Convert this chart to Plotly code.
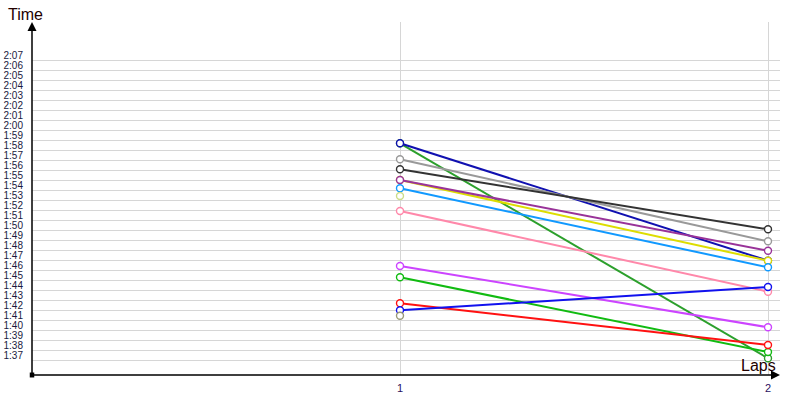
import plotly.graph_objects as go

# ---- data ----
laps = [1, 2]
# lap times in seconds (1:37 = 97 s)
navy_times = [118.67, 106.93]
darkgreen_times = [118.67, 97.17]
gray_times = [117.07, 108.87]
black_times = [116.07, 110.07]
purple_times = [115.0, 107.93]
yellow_times = [115.0, 106.93]
lightblue_times = [114.17, 106.27]
pink_times = [111.9, 103.83]
violet_times = [106.4, 100.27]
green_times = [105.27, 97.8]
red_times = [102.67, 98.5]
blue_times = [101.97, 104.3]
single_lap = [1]
lime_times = [113.4]
olive_times = [101.43]

tick_seconds = list(range(97, 128))
tick_labels = ["%d:%02d" % (s // 60, s % 60) for s in tick_seconds]
x_ticks = [1, 2]
x_labels = ["1", "2"]

series = [
    (darkgreen_times, laps, "#2ca02c"),
    (navy_times, laps, "#1010b0"),
    (gray_times, laps, "#999999"),
    (black_times, laps, "#333333"),
    (yellow_times, laps, "#dddd00"),
    (purple_times, laps, "#993399"),
    (lightblue_times, laps, "#1199ff"),
    (pink_times, laps, "#ff88aa"),
    (violet_times, laps, "#cc44ff"),
    (green_times, laps, "#11bb11"),
    (red_times, laps, "#ff1111"),
    (blue_times, laps, "#1111ee"),
    (lime_times, single_lap, "#ccdd88"),
    (olive_times, single_lap, "#999977"),
]

fig = go.Figure()
for ys, xs, col in series:
    fig.add_trace(go.Scatter(
        x=xs, y=ys, mode="lines+markers",
        line=dict(color=col, width=2),
        marker=dict(symbol="circle", size=7, color="white",
                    line=dict(color=col, width=1.4)),
        hoverinfo="skip", showlegend=False))

# invisible trace to activate the label axis
fig.add_trace(go.Scatter(x=[1], y=[110], yaxis="y2", mode="markers",
                         marker=dict(opacity=0), showlegend=False, hoverinfo="skip"))

y_range = [95.5, 130.8]
label_font = dict(family="Liberation Sans", size=10, color="#1a1a40")

fig.update_layout(
    width=800, height=400,
    margin=dict(l=32, r=20, t=22, b=25),
    plot_bgcolor="white", paper_bgcolor="white",
    xaxis=dict(range=[0, 2.0326], tickvals=x_ticks, ticktext=x_labels,
               showgrid=True, gridcolor="#d6d6d6", gridwidth=1,
               zeroline=False, showline=False, ticks="", automargin=False,
               ticklabelstandoff=5,
               tickfont=dict(family="Liberation Sans", size=11, color="#2a1060")),
    yaxis=dict(range=y_range, tickvals=tick_seconds, showticklabels=False,
               showgrid=True, gridcolor="#d6d6d6", gridwidth=1,
               zeroline=False, showline=False, ticks="", automargin=False),
    yaxis2=dict(range=y_range, overlaying="y", side="left",
                tickvals=[s + 0.45 for s in tick_seconds], ticktext=tick_labels,
                showgrid=False, zeroline=False, showline=False, ticks="",
                automargin=False, ticklabelstandoff=8, tickfont=label_font),
)

# axes with arrowheads
fig.add_annotation(xref="paper", yref="paper", x=1.0, y=0, ax=-748, ay=0,
                   axref="pixel", ayref="pixel", text="", showarrow=True,
                   arrowhead=2, arrowsize=1.2, arrowwidth=1.5, arrowcolor="black")
fig.add_annotation(xref="paper", yref="paper", x=0, y=1.0, ax=0, ay=353,
                   axref="pixel", ayref="pixel", text="", showarrow=True,
                   arrowhead=2, arrowsize=1.2, arrowwidth=1.5, arrowcolor="black")
fig.add_shape(type="rect", xref="paper", yref="paper",
              x0=-0.003, x1=0.003, y0=-0.007, y1=0.007,
              fillcolor="black", line=dict(width=0))

fig.add_annotation(xref="paper", yref="paper", x=(25 - 32) / 748, y=(375 - 15) / 353,
                   xanchor="center", yanchor="middle", text="Time",
                   showarrow=False, font=dict(family="Liberation Sans", size=16, color="#220000"))
fig.add_annotation(xref="paper", yref="paper", x=(758 - 32) / 748, y=(375 - 365) / 353,
                   xanchor="center", yanchor="middle", text="Laps",
                   showarrow=False, font=dict(family="Liberation Sans", size=16, color="#220000"))

fig.write_html("out.html", config={"displayModeBar": False},
               post_script="document.body.style.margin='0px';")
